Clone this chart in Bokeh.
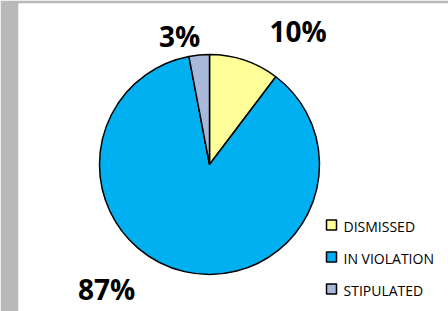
import math
from bokeh.plotting import figure
from bokeh.models import Range1d, ColumnDataSource
from bokeh.core.properties import value
from bokeh.embed import file_html
from bokeh.resources import INLINE

# ---- data ----
categories = ["DISMISSED", "IN VIOLATION", "STIPULATED"]
shares = [10.3, 86.7, 3.0]
colors = ["#FFFF99", "#00B0F0", "#A8B8D9"]

# ---- layout (pixel-based data space: 1 data unit = 1 px) ----
W, H = 448, 311
LEFT, TOP = 18, 3
cx, cy, R = 191, 147, 110
label_pos = [(279.5, 281), (88, 23), (161, 276)]  # per category
leg_sq_x, leg_txt_x = 313, 325
leg_sq_y = [86.5, 54.5, 22.5]
leg_txt_y = [85, 53, 21]

total = sum(shares)
starts, ends = [], []
cum = 0.0
for s in shares:
    starts.append(math.pi / 2 - 2 * math.pi * cum / total)
    cum += s
    ends.append(math.pi / 2 - 2 * math.pi * cum / total)

src = ColumnDataSource(dict(cat=categories, share=shares, color=colors,
                            start=starts, end=ends,
                            x=[cx] * 3, y=[cy] * 3))

p = figure(width=W, height=H, output_backend="svg", toolbar_location=None,
           x_range=Range1d(0, W - LEFT), y_range=Range1d(0, H - TOP),
           x_axis_location=None, y_axis_location=None,
           min_border_left=LEFT, min_border_right=0,
           min_border_top=TOP, min_border_bottom=0)
p.grid.visible = False
p.outline_line_color = None
p.background_fill_color = "white"
p.border_fill_color = "#B9B9B9"

p.wedge(x="x", y="y", radius=R, start_angle="start", end_angle="end",
        direction="clock", fill_color="color", line_color="black",
        line_width=1.5, source=src)

labels = ["%d%%" % round(s) for s in shares]
p.text(x=[q[0] for q in label_pos], y=[q[1] for q in label_pos], text=labels,
       text_font=value("Open Sans"), text_font_style="bold",
       text_font_size="28px", text_align="center",
       text_baseline="alphabetic", text_color="black")

p.scatter(x=[leg_sq_x] * 3, y=leg_sq_y, marker="square", size=10,
          fill_color=colors, line_color="black", line_width=1.5)
p.text(x=[leg_txt_x] * 3, y=leg_txt_y, text=categories,
       text_font=value("Open Sans"), text_font_size="14px",
       text_align="left", text_baseline="alphabetic", text_color="black")

open("out.html", "w").write(file_html(p, INLINE))
